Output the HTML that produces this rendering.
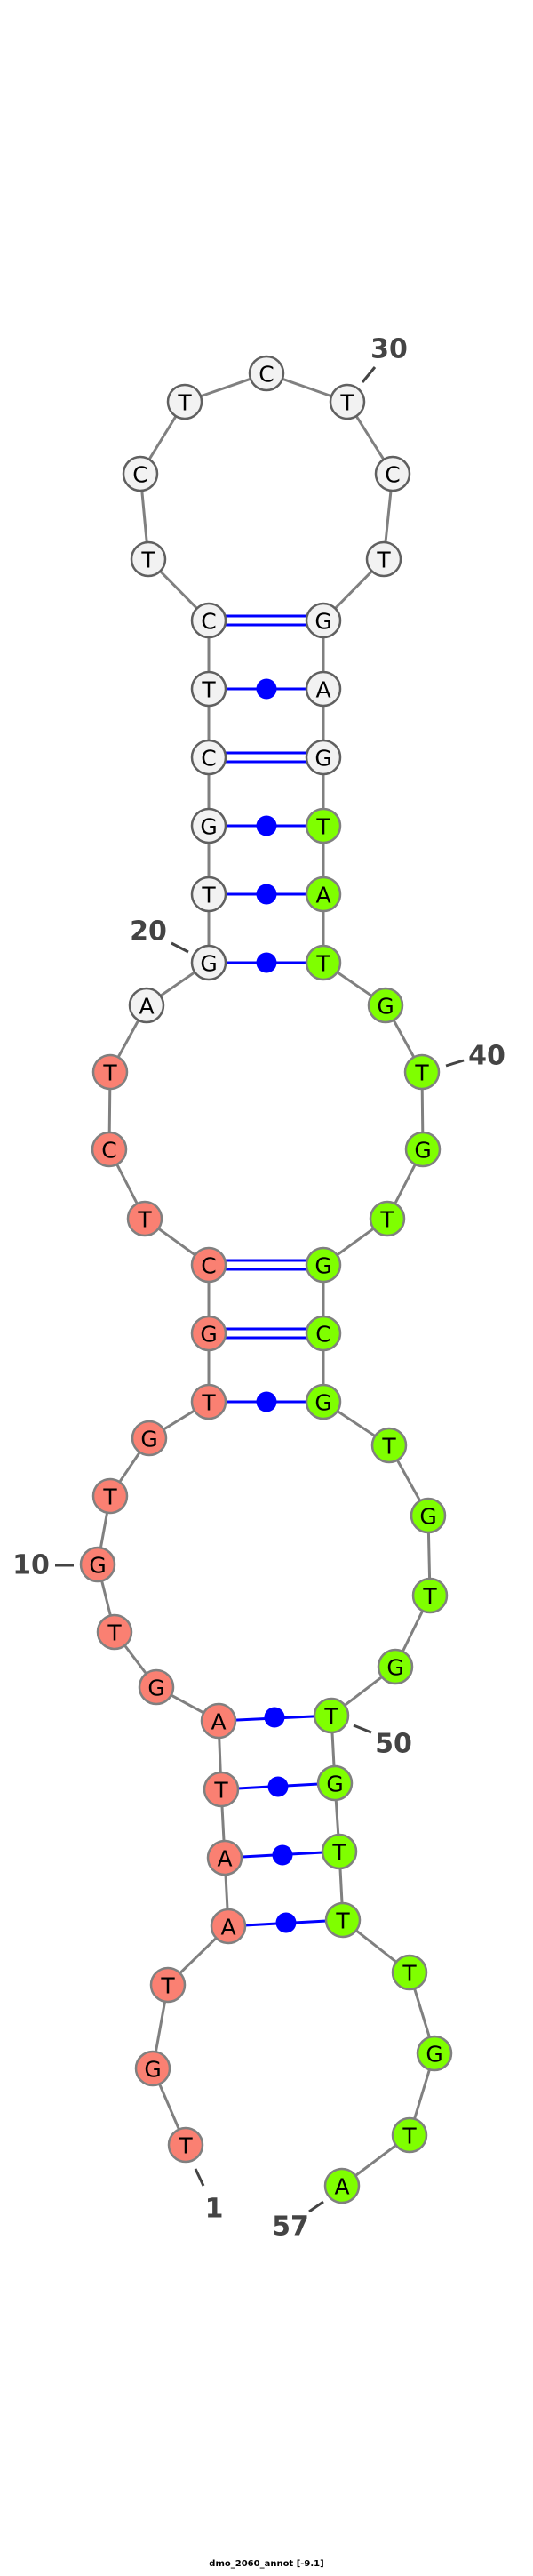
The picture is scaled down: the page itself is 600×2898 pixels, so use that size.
<!DOCTYPE html>
<html><head><meta charset="utf-8"><style>
html,body{margin:0;padding:0;background:#fff}
svg{display:block}
.n text{font-family:"DejaVu Sans","Liberation Sans",sans-serif;font-size:25px;text-anchor:middle;dominant-baseline:central;fill:#000}
.lab{font-family:"DejaVu Sans","Liberation Sans",sans-serif;font-weight:bold;font-size:30px;fill:#444;text-anchor:middle;dominant-baseline:central}
</style></head><body>
<svg width="600" height="2898" viewBox="0 0 600 2898" xmlns="http://www.w3.org/2000/svg">
<polyline fill="none" stroke="#808080" stroke-width="3" points="209,2413 172,2327 189,2233 257,2167 253,2090 249,2013 246,1936 176,1898 129,1836 110,1760 124,1683 168,1618 235,1577 235,1500 235,1423 163,1371 123,1293 124,1206 165,1131 235,1083 235,1006 235,929 235,852 235,775 235,698 167,629 158,533 208,452 300,420 391,452 442,533 432,629 364,698 364,775 364,852 364,929 364,1006 364,1083 434,1131 475,1206 476,1293 436,1371 364,1423 364,1500 364,1577 438,1626 482,1705 484,1795 445,1875 373,1930 377,2006 382,2083 386,2160 461,2219 489,2310 461,2402 385,2459"/>
<g stroke="#0000ff" stroke-width="3">
<line x1="235" y1="1577" x2="364" y2="1577"/>
<line x1="235" y1="1495" x2="364" y2="1495"/><line x1="235" y1="1505" x2="364" y2="1505"/>
<line x1="235" y1="1418" x2="364" y2="1418"/><line x1="235" y1="1428" x2="364" y2="1428"/>
<line x1="235" y1="1083" x2="364" y2="1083"/>
<line x1="235" y1="1006" x2="364" y2="1006"/>
<line x1="235" y1="929" x2="364" y2="929"/>
<line x1="235" y1="847" x2="364" y2="847"/><line x1="235" y1="857" x2="364" y2="857"/>
<line x1="235" y1="775" x2="364" y2="775"/>
<line x1="235" y1="693" x2="364" y2="693"/><line x1="235" y1="703" x2="364" y2="703"/>
<line x1="246" y1="1936" x2="373" y2="1930"/>
<line x1="249" y1="2013" x2="377" y2="2006"/>
<line x1="253" y1="2090" x2="382" y2="2083"/>
<line x1="257" y1="2167" x2="386" y2="2160"/>
</g>
<g fill="#0000ff">
<circle cx="300" cy="1577" r="11.5"/><circle cx="300" cy="1083" r="11.5"/><circle cx="300" cy="1006" r="11.5"/><circle cx="300" cy="929" r="11.5"/><circle cx="300" cy="775" r="11.5"/>
<circle cx="309" cy="1932" r="11.5"/><circle cx="313" cy="2010" r="11.5"/><circle cx="318" cy="2087" r="11.5"/><circle cx="322" cy="2163" r="11.5"/>
</g>
<g class="n" stroke-width="2.5">
<g fill="#fa8072" stroke="#808080">
<circle cx="209" cy="2413" r="19"/><circle cx="172" cy="2327" r="19"/><circle cx="189" cy="2233" r="19"/><circle cx="257" cy="2167" r="19"/><circle cx="253" cy="2090" r="19"/><circle cx="249" cy="2013" r="19"/><circle cx="246" cy="1936" r="19"/><circle cx="176" cy="1898" r="19"/><circle cx="129" cy="1836" r="19"/><circle cx="110" cy="1760" r="19"/><circle cx="124" cy="1683" r="19"/><circle cx="168" cy="1618" r="19"/><circle cx="235" cy="1577" r="19"/><circle cx="235" cy="1500" r="19"/><circle cx="235" cy="1423" r="19"/><circle cx="163" cy="1371" r="19"/><circle cx="123" cy="1293" r="19"/><circle cx="124" cy="1206" r="19"/>
</g>
<g fill="#f2f2f2" stroke="#606060">
<circle cx="165" cy="1131" r="19"/><circle cx="235" cy="1083" r="19"/><circle cx="235" cy="1006" r="19"/><circle cx="235" cy="929" r="19"/><circle cx="235" cy="852" r="19"/><circle cx="235" cy="775" r="19"/><circle cx="235" cy="698" r="19"/><circle cx="167" cy="629" r="19"/><circle cx="158" cy="533" r="19"/><circle cx="208" cy="452" r="19"/><circle cx="300" cy="420" r="19"/><circle cx="391" cy="452" r="19"/><circle cx="442" cy="533" r="19"/><circle cx="432" cy="629" r="19"/><circle cx="364" cy="698" r="19"/><circle cx="364" cy="775" r="19"/><circle cx="364" cy="852" r="19"/>
</g>
<g fill="#7fff00" stroke="#808080">
<circle cx="364" cy="929" r="19"/><circle cx="364" cy="1006" r="19"/><circle cx="364" cy="1083" r="19"/><circle cx="434" cy="1131" r="19"/><circle cx="475" cy="1206" r="19"/><circle cx="476" cy="1293" r="19"/><circle cx="436" cy="1371" r="19"/><circle cx="364" cy="1423" r="19"/><circle cx="364" cy="1500" r="19"/><circle cx="364" cy="1577" r="19"/><circle cx="438" cy="1626" r="19"/><circle cx="482" cy="1705" r="19"/><circle cx="484" cy="1795" r="19"/><circle cx="445" cy="1875" r="19"/><circle cx="373" cy="1930" r="19"/><circle cx="377" cy="2006" r="19"/><circle cx="382" cy="2083" r="19"/><circle cx="386" cy="2160" r="19"/><circle cx="461" cy="2219" r="19"/><circle cx="489" cy="2310" r="19"/><circle cx="461" cy="2402" r="19"/><circle cx="385" cy="2459" r="19"/>
</g>
<text x="209" y="2414">T</text><text x="172" y="2328">G</text><text x="189" y="2234">T</text><text x="257" y="2168">A</text><text x="253" y="2091">A</text><text x="249" y="2014">T</text><text x="246" y="1937">A</text><text x="176" y="1899">G</text><text x="129" y="1837">T</text><text x="110" y="1761">G</text><text x="124" y="1684">T</text><text x="168" y="1619">G</text><text x="235" y="1578">T</text><text x="235" y="1501">G</text><text x="235" y="1424">C</text><text x="163" y="1372">T</text><text x="123" y="1294">C</text><text x="124" y="1207">T</text>
<text x="165" y="1132">A</text><text x="235" y="1084">G</text><text x="235" y="1007">T</text><text x="235" y="930">G</text><text x="235" y="853">C</text><text x="235" y="776">T</text><text x="235" y="699">C</text><text x="167" y="630">T</text><text x="158" y="534">C</text><text x="208" y="453">T</text><text x="300" y="421">C</text><text x="391" y="453">T</text><text x="442" y="534">C</text><text x="432" y="630">T</text><text x="364" y="699">G</text><text x="364" y="776">A</text><text x="364" y="853">G</text>
<text x="364" y="930">T</text><text x="364" y="1007">A</text><text x="364" y="1084">T</text><text x="434" y="1132">G</text><text x="475" y="1207">T</text><text x="476" y="1294">G</text><text x="436" y="1372">T</text><text x="364" y="1424">G</text><text x="364" y="1501">C</text><text x="364" y="1578">G</text><text x="438" y="1627">T</text><text x="482" y="1706">G</text><text x="484" y="1796">T</text><text x="445" y="1876">G</text><text x="373" y="1931">T</text><text x="377" y="2007">G</text><text x="382" y="2084">T</text><text x="386" y="2161">T</text><text x="461" y="2220">T</text><text x="489" y="2311">G</text><text x="461" y="2403">T</text><text x="385" y="2460">A</text>
</g>
<g stroke="#444" stroke-width="3">
<line x1="422" y1="413" x2="408" y2="430"/>
<line x1="193" y1="1061" x2="212" y2="1071"/>
<line x1="502" y1="1199" x2="522" y2="1193"/>
<line x1="62" y1="1761" x2="83" y2="1761"/>
<line x1="398" y1="1941" x2="418" y2="1949"/>
<line x1="220" y1="2440" x2="229" y2="2459"/>
<line x1="364" y1="2477" x2="348" y2="2488"/>
</g>
<text class="lab" x="438" y="393">30</text>
<text class="lab" x="167" y="1048">20</text>
<text class="lab" x="548" y="1188">40</text>
<text class="lab" x="35" y="1761">10</text>
<text class="lab" x="443" y="1962">50</text>
<text class="lab" x="241" y="2485">1</text>
<text class="lab" x="327" y="2505">57</text>
<text x="300" y="2887" font-family="DejaVu Sans, Liberation Sans, sans-serif" font-weight="bold" font-size="10" text-anchor="middle" fill="#000">dmo_2060_annot [-9.1]</text>
</svg>
</body></html>
